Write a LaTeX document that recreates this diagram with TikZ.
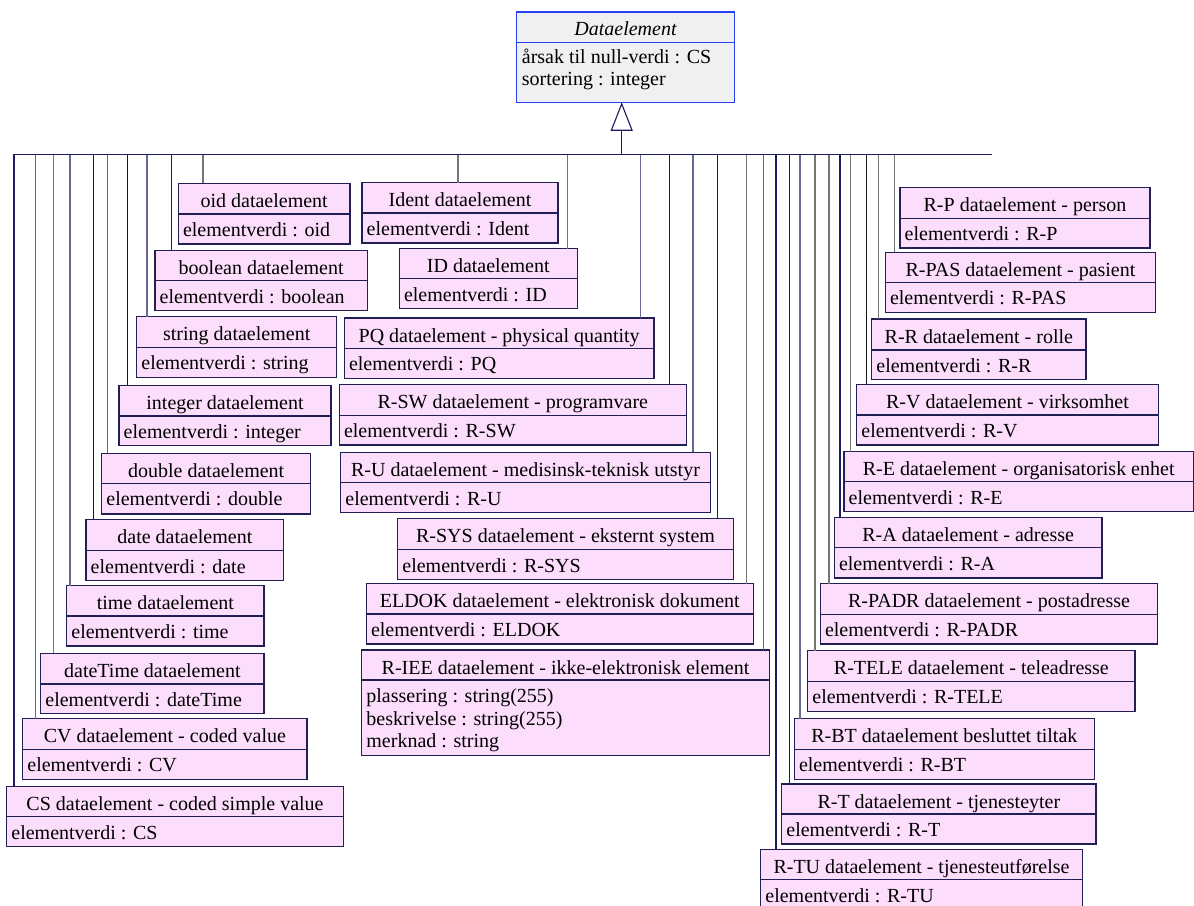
\documentclass[tikz,border=0pt]{standalone}
\usepackage{fontspec}
\setmainfont{Liberation Serif}
\usetikzlibrary{arrows.meta}

\definecolor{clsfill}{RGB}{252,221,252}
\definecolor{clsedge}{RGB}{32,32,84}
\definecolor{rootfill}{RGB}{240,240,240}
\definecolor{rootedge}{RGB}{40,64,240}
\definecolor{busnavy}{RGB}{28,28,96}
\definecolor{busslate}{RGB}{104,104,150}
\definecolor{busgray}{RGB}{118,118,118}
\definecolor{busdark}{RGB}{24,24,24}

\tikzset{
  clsbox/.style={draw=clsedge, fill=clsfill, line width=1.3pt, inner sep=0pt,
                 outer sep=0pt, anchor=north west},
  rootbox/.style={clsbox, draw=rootedge, fill=rootfill},
  clsline/.style={draw=clsedge, line width=1.2pt},
  rootline/.style={draw=rootedge, line width=1.2pt},
  clstitle/.style={inner sep=0pt, anchor=base, font=\fontsize{20}{22}\selectfont},
  clsattr/.style={inner sep=0pt, anchor=base west, font=\fontsize{20}{22}\selectfont},
  bus/.style={draw=busnavy, line width=1.3pt},
  conn/.style={line width=1.1pt},
}

% class box: name, left, top, right, separator, bottom, title, attribute
\newcommand\umlclass[8]{%
  \node[clsbox, minimum width={#4-#2}, minimum height={#6-#3}] (#1) at (#2,#3) {};
  \draw[clsline] (#2,#5) -- (#4,#5);
  \node[clstitle] (#1-t) at ({(#2+#4)/2},{#3+24}) {#7};
  \node[clsattr] (#1-a) at ({#2+4.5},{#5+22.5}) {#8};
}

\begin{document}
\begin{tikzpicture}[x=1pt, y=-1pt]
\useasboundingbox (0,0) rectangle (1194,905);
\clip (0,0) rectangle (1194,905);

% abstract root class
\node[rootbox, minimum width={734.3-516.7}, minimum height={102.3-12}] (root) at (516.7,12) {};
\draw[rootline] (516.7,42.3) -- (734.3,42.3);
\node[clstitle, font=\itshape\fontsize{20}{22}\selectfont] (root-t) at (625.5,35) {Dataelement};
\node[clsattr] (root-a1) at (521.7,63.5) {årsak til null-verdi : CS};
\node[clsattr] (root-a2) at (521.7,85.5) {sortering : integer};

% left column
\umlclass{oid}{178.3}{183.3}{350}{214}{244}{oid dataelement}{elementverdi : oid}
\umlclass{bool}{155}{250.7}{367.3}{280.7}{310.7}{boolean dataelement}{elementverdi : boolean}
\umlclass{str}{136.7}{316.7}{336.7}{347.3}{377.3}{string dataelement}{elementverdi : string}
\umlclass{int}{119}{385.7}{331}{416}{445.7}{integer dataelement}{elementverdi : integer}
\umlclass{dbl}{101.7}{453.3}{310.7}{483.3}{514}{double dataelement}{elementverdi : double}
\umlclass{date}{86}{519.3}{283.7}{550.7}{580.3}{date dataelement}{elementverdi : date}
\umlclass{time}{66.7}{585.7}{264}{616}{646}{time dataelement}{elementverdi : time}
\umlclass{dt}{40.7}{653.3}{264}{684}{713.3}{dateTime dataelement}{elementverdi : dateTime}
\umlclass{CV}{22.7}{718.7}{307}{749.3}{779.3}{CV dataelement - coded value}{elementverdi : CV}
\umlclass{CS}{6.7}{786.7}{343.3}{816.7}{846.7}{CS dataelement - coded simple value}{elementverdi : CS}

% middle column
\umlclass{Ident}{362}{182.7}{558}{213}{243}{Ident dataelement}{elementverdi : Ident}
\umlclass{ID}{399.3}{248.7}{577.3}{278.7}{308.7}{ID dataelement}{elementverdi : ID}
\umlclass{PQ}{344.3}{318}{654}{348.3}{378.7}{PQ dataelement - physical quantity}{elementverdi : PQ}
\umlclass{RSW}{339.3}{384.7}{686.3}{415.3}{445}{R-SW dataelement - programvare}{elementverdi : R-SW}
\umlclass{RU}{340.7}{452.3}{710.3}{482.7}{512.7}{R-U dataelement - medisinsk-teknisk utstyr}{elementverdi : R-U}
\umlclass{RSYS}{397.7}{518.7}{733.3}{549.7}{579.3}{R-SYS dataelement - eksternt system}{elementverdi : R-SYS}
\umlclass{ELDOK}{366.3}{583.7}{753.3}{614}{644}{ELDOK dataelement - elektronisk dokument}{elementverdi : ELDOK}
\umlclass{RIEE}{361.7}{650}{769.3}{680}{755.7}{R-IEE dataelement - ikke-elektronisk element}{plassering : string(255)}
\node[clsattr] (RIEE-b) at (366.2,725) {beskrivelse : string(255)};
\node[clsattr] (RIEE-c) at (366.2,747) {merknad : string};

% right column
\umlclass{RP}{900}{187.7}{1150}{218.3}{248}{R-P dataelement - person}{elementverdi : R-P}
\umlclass{RPAS}{885.3}{252.3}{1155.7}{282.3}{312.7}{R-PAS dataelement - pasient}{elementverdi : R-PAS}
\umlclass{RR}{871.7}{319}{1086}{350}{379.3}{R-R dataelement - rolle}{elementverdi : R-R}
\umlclass{RV}{856.7}{384.7}{1158.3}{415}{445}{R-V dataelement - virksomhet}{elementverdi : R-V}
\umlclass{RE}{844}{451.7}{1193.3}{481.7}{511.7}{R-E dataelement - organisatorisk enhet}{elementverdi : R-E}
\umlclass{RA}{834.3}{517.7}{1102}{547.7}{578}{R-A dataelement - adresse}{elementverdi : R-A}
\umlclass{RPADR}{820.3}{583.7}{1157.7}{614.3}{644}{R-PADR dataelement - postadresse}{elementverdi : R-PADR}
\umlclass{RTELE}{807.7}{650.7}{1135}{681.3}{711.7}{R-TELE dataelement - teleadresse}{elementverdi : R-TELE}
\umlclass{RBT}{794.3}{718.7}{1094.3}{749.3}{779.3}{R-BT dataelement besluttet tiltak}{elementverdi : R-BT}
\umlclass{RT}{781.7}{784}{1096}{814}{844}{R-T dataelement - tjenesteyter}{elementverdi : R-T}
\umlclass{RTU}{760.7}{849.3}{1082.3}{879.7}{915}{R-TU dataelement - tjenesteutførelse}{elementverdi : R-TU}

% inheritance bus
\coordinate (busL) at (14,154.3);
\coordinate (busR) at (992.3,154.3);
\coordinate (gen) at (621.7,154.3);

% drops from the bus to each subclass
\foreach \x/\n/\c in {
  14/CS/busnavy, 35.7/CV/busslate, 53.7/dt/busgray, 70/time/busslate,
  93.7/date/busdark, 107.7/dbl/busslate, 127.7/int/busdark, 147/str/busslate,
  171.7/bool/busnavy, 203/oid/busgray,
  458/Ident/busgray, 567.3/ID/busgray, 640.7/PQ/busslate, 669.7/RSW/busnavy,
  693/RU/busslate, 717.7/RSYS/busnavy, 746.7/ELDOK/busgray, 763.3/RIEE/busslate,
  776/RTU/busnavy, 789.3/RT/busnavy, 800/RBT/busslate, 815/RTELE/busgray,
  829/RPADR/busgray, 840/RA/busnavy, 850.7/RE/busgray, 866.5/RV/busdark,
  878.7/RR/busgray, 894.5/RPAS/busgray} {
  \coordinate (b-\n) at (\x,154.3);
  \draw[conn, draw=\c] (b-\n) -- (b-\n |- \n.north);
}
\draw[bus] (busL) -- (busR);

% generalization arrow up to the root class
\draw[conn, draw=busnavy, -{Triangle[open, length=28.5pt, width=22pt, fill=white]}]
  (gen) -- (gen |- root.south);
\end{tikzpicture}
\end{document}
